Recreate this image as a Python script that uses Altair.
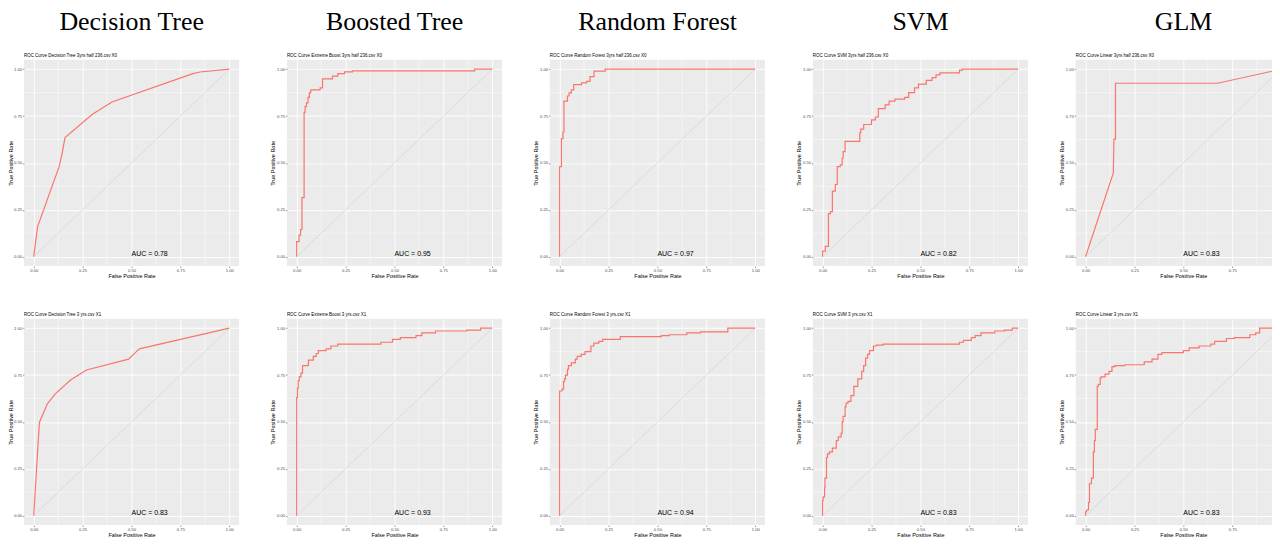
import altair as alt
import pandas as pd

# ---------------- data ----------------
models = ["Decision Tree", "Boosted Tree", "Random Forest", "SVM", "GLM"]

top_titles = [
    "ROC Curve Decision Tree 3yrs half 236.csv X0",
    "ROC Curve Extreme Boost 3yrs half 236.csv X0",
    "ROC Curve Random Forest 3yrs half 236.csv X0",
    "ROC Curve SVM 3yrs half 236.csv X0",
    "ROC Curve Linear 3yrs half 236.csv X0",
]
bottom_titles = [
    "ROC Curve Decision Tree 3 yrs.csv X1",
    "ROC Curve Extreme Boost 3 yrs.csv X1",
    "ROC Curve Random Forest 3 yrs.csv X1",
    "ROC Curve SVM 3 yrs.csv X1",
    "ROC Curve Linear 3 yrs.csv X1",
]
top_auc = ["0.78", "0.95", "0.97", "0.82", "0.83"]
bottom_auc = ["0.83", "0.93", "0.94", "0.83", "0.83"]

# Decision tree, top (piecewise linear)
dt0_fpr = [0, 0.02, 0.13, 0.145, 0.16, 0.30, 0.40, 0.81, 0.85, 1.0]
dt0_tpr = [0, 0.16, 0.48, 0.55, 0.635, 0.76, 0.825, 0.975, 0.985, 1.0]
# Boosted tree, top (steps)
bt0_fpr = [0, 0.012, 0.02, 0.027, 0.038, 0.043, 0.05, 0.058, 0.065, 0.072, 0.12, 0.132,
           0.183, 0.21, 0.245, 0.285, 0.91, 1.0]
bt0_tpr = [0, 0.08, 0.115, 0.145, 0.315, 0.77, 0.80, 0.82, 0.85, 0.875, 0.89, 0.90,
           0.948, 0.963, 0.977, 0.986, 0.991, 1.0]
# Random forest, top (steps)
rf0_fpr = [0, 0.009, 0.017, 0.022, 0.04, 0.048, 0.06, 0.072, 0.112, 0.138, 0.155, 0.176,
           0.233, 1.0]
rf0_tpr = [0, 0.48, 0.63, 0.665, 0.83, 0.857, 0.874, 0.89, 0.918, 0.927, 0.935, 0.96,
           0.99, 1.0]
# SVM, top (steps)
svm0_fpr = [0, 0.014, 0.03, 0.04, 0.05, 0.065, 0.075, 0.09, 0.10, 0.105, 0.115, 0.19,
            0.195, 0.21, 0.25, 0.27, 0.285, 0.32, 0.34, 0.37, 0.42, 0.44, 0.47, 0.49,
            0.53, 0.56, 0.58, 0.60, 0.70, 0.715, 1.0]
svm0_tpr = [0, 0.03, 0.055, 0.23, 0.24, 0.35, 0.385, 0.48, 0.49, 0.525, 0.56, 0.615,
            0.66, 0.68, 0.705, 0.73, 0.745, 0.79, 0.81, 0.83, 0.84, 0.85, 0.875, 0.90,
            0.92, 0.94, 0.955, 0.97, 0.98, 0.995, 1.0]
# GLM, top (piecewise linear)
glm0_fpr = [0, 0.142, 0.145, 0.153, 0.153, 0.675, 1.0]
glm0_tpr = [0, 0.447, 0.627, 0.627, 0.925, 0.925, 1.0]

# Decision tree, bottom (piecewise linear)
dt1_fpr = [0, 0.029, 0.069, 0.11, 0.19, 0.27, 0.485, 0.51, 0.54, 1.0]
dt1_tpr = [0, 0.497, 0.595, 0.65, 0.725, 0.777, 0.835, 0.86, 0.89, 1.0]
# Boosted tree, bottom (steps)
bt1_fpr = [0, 0.004, 0.008, 0.013, 0.022, 0.03, 0.06, 0.085, 0.10, 0.11, 0.15, 0.175,
           0.21, 0.43, 0.49, 0.53, 0.61, 0.64, 0.71, 0.87, 0.94, 1.0]
bt1_tpr = [0, 0.63, 0.68, 0.72, 0.74, 0.76, 0.80, 0.83, 0.85, 0.865, 0.88, 0.89, 0.905,
           0.915, 0.925, 0.94, 0.95, 0.96, 0.975, 0.985, 0.99, 1.0]
# Random forest, bottom (steps)
rf1_fpr = [0, 0.012, 0.02, 0.025, 0.03, 0.04, 0.045, 0.06, 0.08, 0.09, 0.11, 0.13, 0.16,
           0.175, 0.20, 0.22, 0.31, 0.52, 0.56, 0.65, 0.72, 0.86, 1.0]
rf1_tpr = [0, 0.665, 0.675, 0.715, 0.73, 0.75, 0.78, 0.80, 0.815, 0.835, 0.85, 0.86,
           0.875, 0.905, 0.92, 0.93, 0.94, 0.955, 0.96, 0.965, 0.975, 0.98, 1.0]
# SVM, bottom (steps)
svm1_fpr = [0, 0.003, 0.01, 0.012, 0.02, 0.025, 0.035, 0.05, 0.07, 0.08, 0.095, 0.10,
            0.105, 0.115, 0.12, 0.13, 0.145, 0.16, 0.18, 0.20, 0.21, 0.22, 0.23, 0.24,
            0.26, 0.275, 0.31, 0.33, 0.70, 0.72, 0.76, 0.78, 0.81, 0.88, 0.93, 0.97, 1.0]
svm1_tpr = [0, 0.08, 0.10, 0.15, 0.20, 0.31, 0.33, 0.34, 0.36, 0.40, 0.42, 0.44, 0.50,
            0.53, 0.58, 0.60, 0.61, 0.64, 0.69, 0.73, 0.77, 0.80, 0.84, 0.86, 0.88,
            0.905, 0.91, 0.915, 0.915, 0.925, 0.935, 0.95, 0.96, 0.975, 0.985, 0.99, 1.0]
# GLM, bottom (steps)
glm1_fpr = [0, 0.005, 0.015, 0.02, 0.03, 0.04, 0.045, 0.05, 0.06, 0.065, 0.075, 0.08,
            0.10, 0.12, 0.135, 0.15, 0.20, 0.30, 0.34, 0.37, 0.39, 0.50, 0.53, 0.58,
            0.64, 0.66, 0.72, 0.76, 0.84, 0.87, 0.89, 1.0]
glm1_tpr = [0, 0.02, 0.03, 0.07, 0.17, 0.20, 0.34, 0.40, 0.46, 0.69, 0.70, 0.735,
            0.74, 0.755, 0.77, 0.795, 0.80, 0.805, 0.82, 0.835, 0.86, 0.87, 0.88, 0.895,
            0.905, 0.915, 0.93, 0.945, 0.95, 0.965, 0.975, 1.0]

top_curves = [(dt0_fpr, dt0_tpr, "linear"), (bt0_fpr, bt0_tpr, "step-before"),
              (rf0_fpr, rf0_tpr, "step-before"), (svm0_fpr, svm0_tpr, "step-before"),
              (glm0_fpr, glm0_tpr, "linear")]
bottom_curves = [(dt1_fpr, dt1_tpr, "linear"), (bt1_fpr, bt1_tpr, "step-before"),
                 (rf1_fpr, rf1_tpr, "step-before"), (svm1_fpr, svm1_tpr, "step-before"),
                 (glm1_fpr, glm1_tpr, "step-before")]

major_ticks = [0, 0.25, 0.5, 0.75, 1.0]
minor_ticks = [0.125, 0.375, 0.625, 0.875]
diag = [0, 1]

# ---------------- styling ----------------
SANS = "Liberation Sans"
SERIF = "Liberation Serif"
PW = 216
PH = 207


def make_axis(title, tpad):
    return alt.Axis(values=major_ticks, format=".2f", title=title,
                    labelFont=SANS, titleFont=SANS, labelFontSize=4.2, titleFontSize=5.5,
                    titleFontWeight="normal", labelColor="#4D4D4D", titleColor="#000000",
                    tickColor="#333333", tickSize=1.5, tickWidth=0.5, labelPadding=0.8,
                    titlePadding=tpad, domain=False, grid=True, gridColor="#FFFFFF",
                    gridWidth=0.9, labelFlush=False, labelOverlap=False)


def panel(curve, title, auc):
    fpr, tpr, interp = curve
    sx = alt.Scale(domain=[-0.05, 1.05], nice=False, zero=False)
    sy = alt.Scale(domain=[-0.05, 1.05], nice=False, zero=False)
    ax = make_axis("False Positive Rate", 1)
    ay = make_axis("True Positive Rate", 0.5)

    minor = pd.DataFrame({"v": minor_ticks})
    gx = alt.Chart(minor).mark_rule(color="#FFFFFF", strokeWidth=0.45).encode(
        x=alt.X("v:Q", scale=sx, axis=ax))
    gy = alt.Chart(minor).mark_rule(color="#FFFFFF", strokeWidth=0.45).encode(
        y=alt.Y("v:Q", scale=sy, axis=ay))

    d = pd.DataFrame({"fpr": diag, "tpr": diag})
    dline = alt.Chart(d).mark_line(color="#CFCFCF", strokeWidth=0.6).encode(
        x=alt.X("fpr:Q", scale=sx, axis=ax), y=alt.Y("tpr:Q", scale=sy, axis=ay))

    c = pd.DataFrame({"fpr": fpr, "tpr": tpr, "i": list(range(len(fpr)))})
    roc = alt.Chart(c).mark_line(color="#F8766D", strokeWidth=1.2, interpolate=interp).encode(
        x=alt.X("fpr:Q", scale=sx, axis=ax), y=alt.Y("tpr:Q", scale=sy, axis=ay),
        order="i:Q")

    t = pd.DataFrame({"fpr": [0.5], "tpr": [0.012], "label": ["AUC = " + auc]})
    txt = alt.Chart(t).mark_text(align="left", baseline="middle", font=SANS,
                                 fontSize=7, color="#000000").encode(
        x=alt.X("fpr:Q", scale=sx, axis=ax), y=alt.Y("tpr:Q", scale=sy, axis=ay),
        text="label:N")

    return alt.layer(gx, gy, dline, roc, txt).properties(
        width=PW, height=PH,
        title=alt.TitleParams(title, anchor="start", frame="group", font=SANS,
                              fontSize=4.5, fontWeight="normal", color="#000000",
                              offset=2.5))


cols = []
for k in range(5):
    top = panel(top_curves[k], top_titles[k], top_auc[k])
    bot = panel(bottom_curves[k], bottom_titles[k], bottom_auc[k])
    col = alt.vconcat(top, bot, spacing=32, title=alt.TitleParams(
        models[k], anchor="middle", font=SERIF, fontSize=26, fontWeight="normal",
        color="#000000", dx=8, offset=17.4))
    cols.append(col)

chart = alt.hconcat(*cols, spacing=31,
                    padding={"top": 0, "left": 0, "right": -20, "bottom": 0},
                    background="#FFFFFF").configure_view(fill="#EBEBEB", strokeWidth=0)

chart.save("out.html", embed_options={"renderer": "svg", "actions": False})
